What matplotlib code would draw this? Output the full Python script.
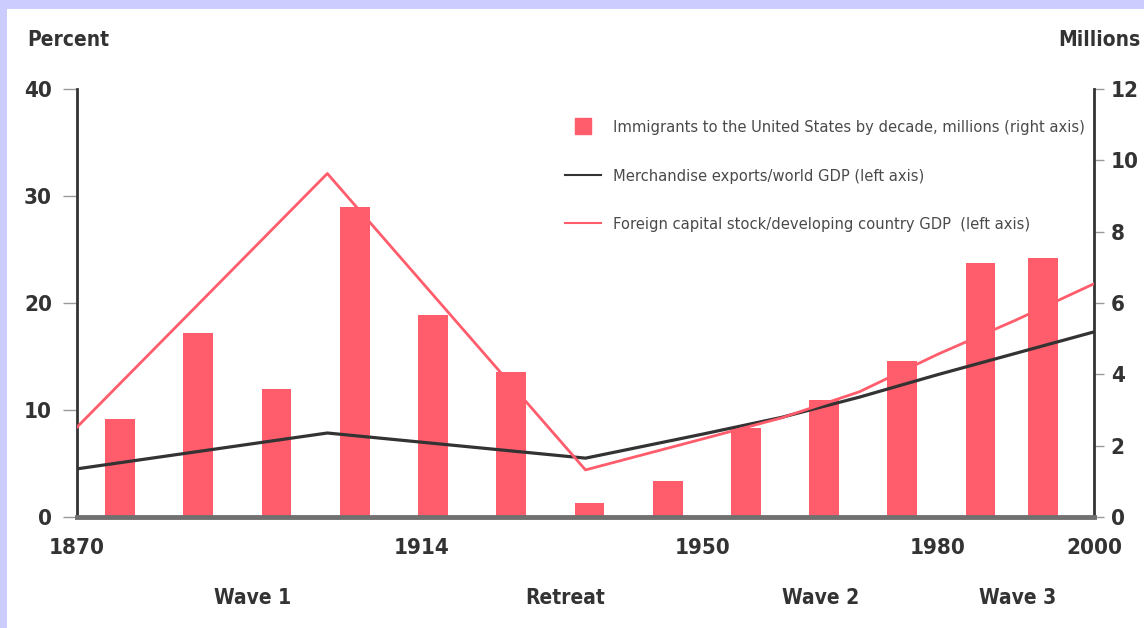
import numpy as np
import matplotlib.pyplot as plt
from matplotlib.lines import Line2D

# immigrants to the US by decade (millions, right axis)
bar_years = [1875.5, 1885.5, 1895.5, 1905.5, 1915.5, 1925.5, 1935.5,
             1945.5, 1955.5, 1965.5, 1975.5, 1985.5, 1993.5]
immigrants = [2.75, 5.16, 3.59, 8.69, 5.66, 4.07, 0.39, 1.0, 2.5, 3.28, 4.37, 7.12, 7.26]

# merchandise exports / world GDP (percent, left axis)
exp_years = [1870, 1902, 1935, 1950, 1960, 1970, 1980, 1990, 2000]
exports = [4.5, 7.85, 5.5, 7.75, 9.3, 11.2, 13.3, 15.3, 17.3]

# foreign capital stock / developing country GDP (percent, left axis)
cap_years = [1870, 1902, 1935, 1950, 1960, 1970, 1980, 1990, 2000]
capital = [8.4, 32.1, 4.4, 7.3, 9.25, 11.7, 15.2, 18.4, 21.8]

xticks = [1870, 1914, 1950, 1980, 2000]
periods = ['Wave 1', 'Retreat', 'Wave 2', 'Wave 3']
period_x = [1892.4, 1932.4, 1965.1, 1990.2]

plt.rcParams['font.family'] = ['DejaVu Sans']
plt.rcParams['font.stretch'] = 'condensed'

red = '#ff5c6c'
dark = '#333333'
txt = '#333333'

fig = plt.figure(figsize=(11.44, 6.28), dpi=100)
fig.patch.set_facecolor('#ccccff')
fig.patches.append(plt.Rectangle((7/1144, 0), 1, 1 - 9/628, transform=fig.transFigure,
                                 facecolor='white', edgecolor='none', zorder=-1))

ax = fig.add_axes([77/1144, 1 - 517/628, (1094 - 77)/1144, (517 - 89)/628])
ax2 = ax.twinx()

ax2.bar(bar_years, immigrants, width=3.8, color=red, zorder=2)
ax.plot(exp_years, exports, color=dark, lw=2.3, zorder=3)
ax.plot(cap_years, capital, color=red, lw=2, zorder=3)

ax.set_zorder(ax2.get_zorder() + 1)
ax.patch.set_visible(False)

ax.set_xlim(1870, 2000)
ax.set_ylim(0, 40)
ax2.set_ylim(0, 12)
ax.set_yticks([0, 10, 20, 30, 40])
ax2.set_yticks([0, 2, 4, 6, 8, 10, 12])
ax.set_xticks(xticks)
ax.set_xticklabels([str(t) for t in xticks])

for a in (ax, ax2):
    for s in a.spines.values():
        s.set_visible(False)
ax.spines['left'].set_visible(True)
ax.spines['left'].set_color(dark)
ax.spines['left'].set_linewidth(2)
ax2.spines['right'].set_visible(True)
ax2.spines['right'].set_color(dark)
ax2.spines['right'].set_linewidth(2)
ax.spines['bottom'].set_visible(True)
ax.spines['bottom'].set_color('#707070')
ax.spines['bottom'].set_linewidth(3.5)

ax.tick_params(axis='y', length=10, width=1, color='#999999', pad=8,
               labelsize=16, labelcolor=txt)
ax2.tick_params(axis='y', length=7, width=1, color='#999999', pad=5,
                labelsize=16, labelcolor=txt)
ax.tick_params(axis='x', length=0, pad=15, labelsize=16, labelcolor=txt)
for lab in ax.get_yticklabels() + ax2.get_yticklabels() + ax.get_xticklabels():
    lab.set_fontweight('bold')

# period labels under the axis
for name, px in zip(periods, period_x):
    ax.text(px, -0.19, name, transform=ax.get_xaxis_transform(), ha='center', va='center',
            fontsize=15, fontweight='bold', color=txt)

fig.text(27/1144, 1 - 40/628, 'Percent', ha='left', va='center', fontsize=15,
         fontweight='bold', color=txt)
fig.text(1141/1144, 1 - 40/628, 'Millions', ha='right', va='center', fontsize=15,
         fontweight='bold', color=txt)

handles = [Line2D([], [], marker='s', ls='none', color=red, markersize=12),
           Line2D([], [], color=dark, lw=1.5),
           Line2D([], [], color=red, lw=1.5)]
labels = ['Immigrants to the United States by decade, millions (right axis)',
          'Merchandise exports/world GDP (left axis)',
          'Foreign capital stock/developing country GDP  (left axis)']
leg = fig.legend(handles, labels, loc='upper left', bbox_to_anchor=(565/1144, 1 - 120/628),
                 frameon=False, fontsize=11.8, handlelength=2.2, handletextpad=0.7,
                 labelspacing=2.05, borderpad=0, borderaxespad=0)
for t in leg.get_texts():
    t.set_color('#4a4a4a')

plt.savefig('out.png', dpi=100)
